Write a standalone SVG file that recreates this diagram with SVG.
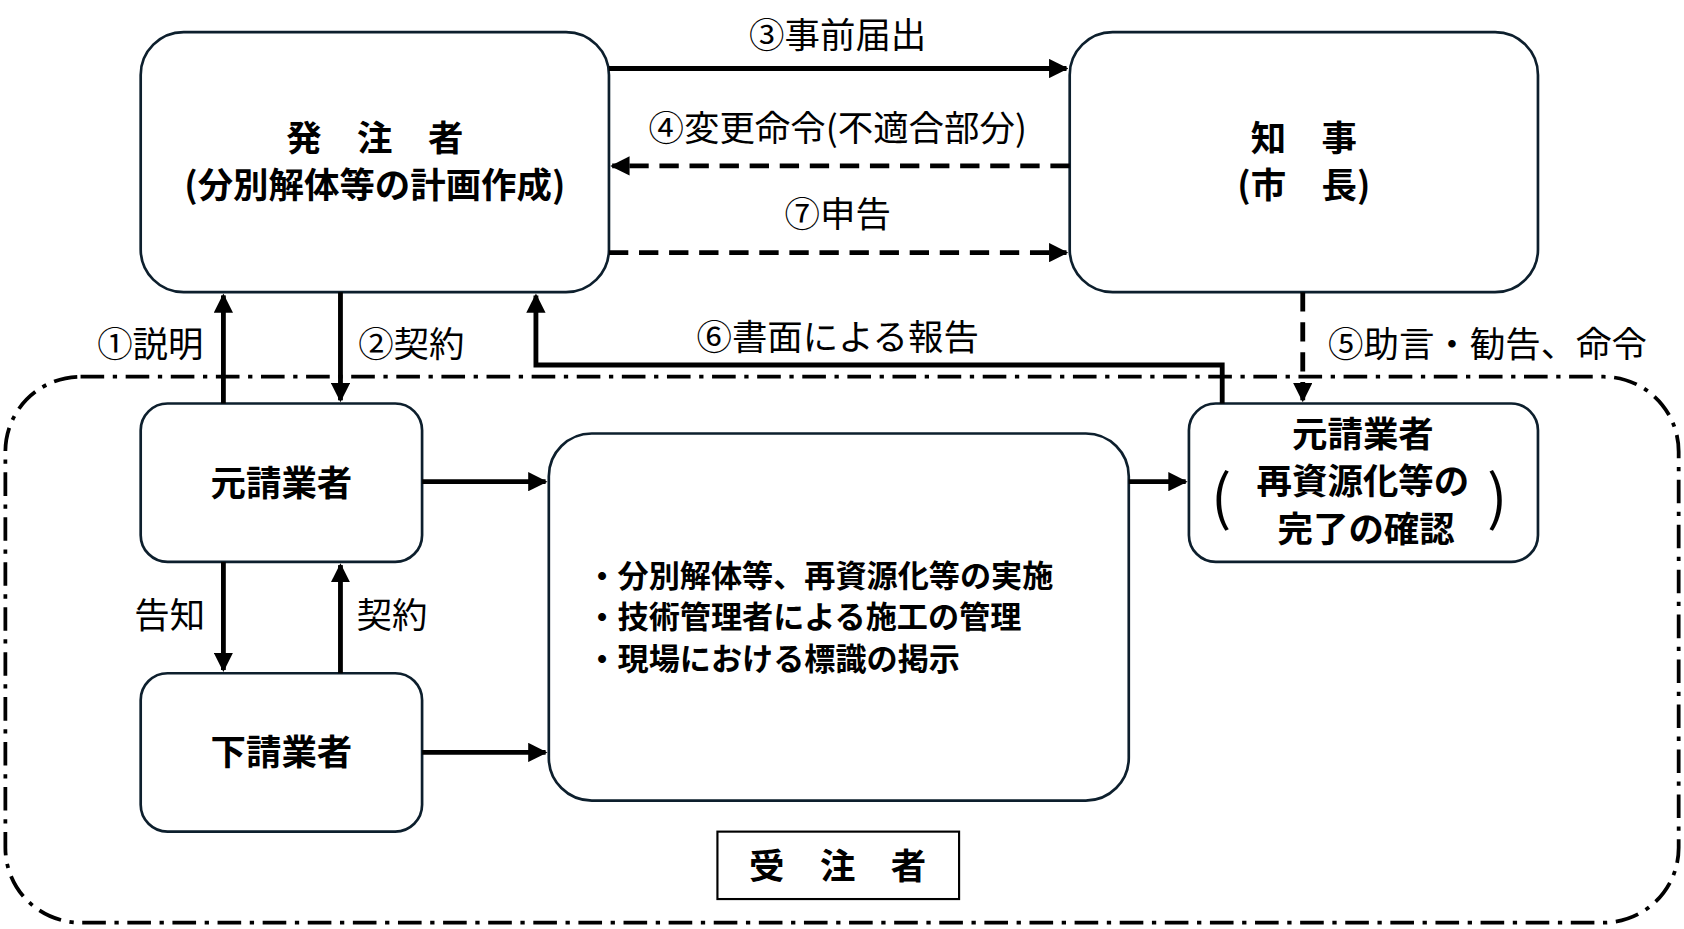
<svg xmlns="http://www.w3.org/2000/svg" width="1684" height="929" viewBox="0 0 1684 929">
<style>
.n{fill:#fff;stroke:#0d1f2d;stroke-width:2.5}
.t{font-family:"Noto Sans CJK JP",sans-serif;font-size:33px;fill:#000;text-anchor:middle}
.b{font-weight:bold}
.l{fill:none;stroke:#000;stroke-width:4.5}
.d{stroke-dasharray:18,10}
</style>
<defs><marker id="a" viewBox="0 0 10 10" refX="9" refY="5" markerWidth="4" markerHeight="4" orient="auto" markerUnits="strokeWidth"><path d="M0,0L10,5L0,10z" fill="#000"/></marker></defs>
<rect width="1684" height="929" fill="#fff"/>
<g transform="scale(1.074,1.0703)">
<rect x="5" y="352" width="1558" height="510" rx="70" fill="none" stroke="#000" stroke-width="3.5" stroke-dasharray="22,8,4,8"/>
<g id="hatchu"><rect class="n" x="131" y="30" width="436" height="243" rx="40"/><text class="t b" x="349" y="141">発　注　者</text><text class="t b" x="349" y="185">(分別解体等の計画作成)</text></g>
<g id="chiji"><rect class="n" x="996" y="30" width="436" height="243" rx="40"/><text class="t b" x="1214" y="141">知　事</text><text class="t b" x="1214" y="185">(市　長)</text></g>
<g id="motouke"><rect class="n" x="131" y="377" width="262" height="148" rx="25"/><text class="t b" x="262" y="463">元請業者</text></g>
<g id="shitauke"><rect class="n" x="131" y="629" width="262" height="148" rx="25"/><text class="t b" x="262" y="715">下請業者</text></g>
<g id="center"><rect class="n" x="511" y="405" width="540" height="343" rx="40"/>
<text class="t b" x="546" y="548" style="text-anchor:start;font-size:29px">・分別解体等、再資源化等の実施</text>
<text class="t b" x="546" y="587" style="text-anchor:start;font-size:29px">・技術管理者による施工の管理</text>
<text class="t b" x="546" y="626" style="text-anchor:start;font-size:29px">・現場における標識の掲示</text></g>
<g id="motouke2"><rect class="n" x="1107" y="377" width="325" height="148" rx="25"/><text class="t b" x="1269" y="418">元請業者</text><text class="t b" x="1269" y="462">再資源化等の</text><text class="t b" x="1272" y="506">完了の確認</text><text class="t" x="1137" y="485" style="font-size:56px">(</text><text class="t" x="1394" y="485" style="font-size:56px">)</text></g>
<g id="juchu"><rect x="668" y="777" width="225" height="63" fill="#fff" stroke="#000" stroke-width="2"/><text class="t b" x="780" y="821">受　注　者</text></g>
<g id="connectors">
<path class="l" d="M567,64H993" marker-end="url(#a)"/>
<path class="l d" d="M996,155H570" marker-end="url(#a)"/>
<path class="l d" d="M567,236H993" marker-end="url(#a)"/>
<path class="l" d="M208,377V276" marker-end="url(#a)"/>
<path class="l" d="M317,273V374" marker-end="url(#a)"/>
<path class="l" d="M1138,377V341H499V276" marker-end="url(#a)"/>
<path class="l d" d="M1213,273V374" marker-end="url(#a)"/>
<path class="l" d="M208,525V626" marker-end="url(#a)"/>
<path class="l" d="M317,629V528" marker-end="url(#a)"/>
<path class="l" d="M393,450H508" marker-end="url(#a)"/>
<path class="l" d="M393,703H508" marker-end="url(#a)"/>
<path class="l" d="M1051,450H1104" marker-end="url(#a)"/>
<text class="t" x="780" y="45">③事前届出</text>
<text class="t" x="780" y="132">④変更命令(不適合部分)</text>
<text class="t" x="780" y="212">⑦申告</text>
<text class="t" x="140" y="334">①説明</text>
<text class="t" x="383" y="334">②契約</text>
<text class="t" x="780" y="327">⑥書面による報告</text>
<text class="t" x="1385" y="334">⑤助言・勧告、命令</text>
<text class="t" x="158" y="587">告知</text>
<text class="t" x="365" y="587">契約</text>
</g>
</g>
</svg>
